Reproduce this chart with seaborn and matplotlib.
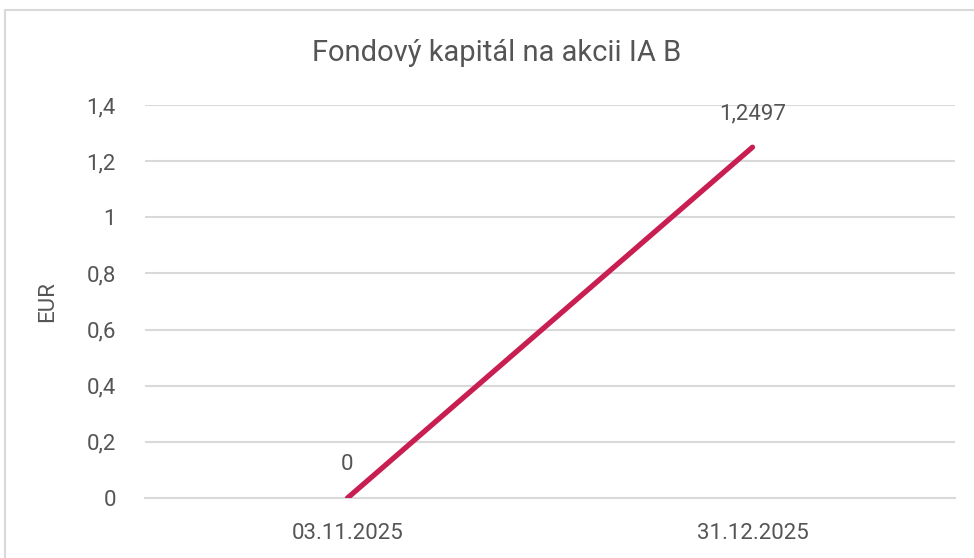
import matplotlib
matplotlib.use("Agg")
import matplotlib.pyplot as plt
import seaborn as sns
import pandas as pd
from matplotlib.patches import Rectangle
from matplotlib.ticker import FixedLocator, FuncFormatter

dates = ["03.11.2025", "31.12.2025"]
values = [0.0, 1.2497]
value_labels = ["0", "1,2497"]
yticks = [0, 0.2, 0.4, 0.6, 0.8, 1.0, 1.2, 1.4]

sns.set_theme(style="white")
plt.rcParams["font.family"] = ["Roboto", "DejaVu Sans"]

text_col = "#555555"
grid_col = "#D9D9D9"
line_col = "#C81E52"
fs = 16

df = pd.DataFrame({"date": dates, "value": values})
df["pos"] = range(len(dates))

fig = plt.figure(figsize=(9.74, 5.58), dpi=100)
fig.patches.append(Rectangle((5 / 974, -0.1), 1.2, 1 - 10 / 558 + 0.1,
                             transform=fig.transFigure, fill=False,
                             edgecolor="#D9D9D9", linewidth=1.5, zorder=0))
ax = fig.add_axes([145 / 974, 1 - 498 / 558, 810 / 974, 393 / 558])

sns.lineplot(data=df, x="pos", y="value", ax=ax, color=line_col,
             linewidth=3.8, solid_capstyle="round", zorder=3)

ax.set_xlim(-0.5, len(dates) - 0.5)
ax.set_ylim(0, 1.4)
ax.yaxis.set_major_locator(FixedLocator(yticks))
ax.yaxis.set_major_formatter(FuncFormatter(
    lambda v, p: ("%g" % round(v, 1)).replace(".", ",")))
ax.set_xticks(range(len(dates)))
ax.set_xticklabels(dates)
ax.set_xticks([i - 0.5 for i in range(len(dates) + 1)], minor=True)

for s in ["top", "right", "left"]:
    ax.spines[s].set_visible(False)
ax.spines["bottom"].set_color(grid_col)
ax.spines["bottom"].set_linewidth(1.5)
ax.grid(axis="y", color=grid_col, linewidth=1.5, zorder=0)
ax.set_axisbelow(True)

ax.tick_params(axis="x", which="major", length=0, pad=18, labelsize=fs,
               labelcolor=text_col)
ax.tick_params(axis="x", which="minor", length=9, width=1.5, color=grid_col,
               direction="out")
ax.tick_params(axis="y", length=0, pad=21, labelsize=fs, labelcolor=text_col)

ax.set_xlabel("")
ax.set_ylabel("EUR", fontsize=fs, color=text_col, labelpad=20)

for x, y, t in zip(df["pos"], values, value_labels):
    ax.annotate(t, (x, y), xytext=(0, 24), textcoords="offset points",
                ha="center", va="center", fontsize=fs, color=text_col)

fig.text(497 / 974, 1 - 53 / 558, "Fondový kapitál na akcii IA B",
         ha="center", va="center", fontsize=21, color=text_col)

fig.savefig("out.png", dpi=100)
